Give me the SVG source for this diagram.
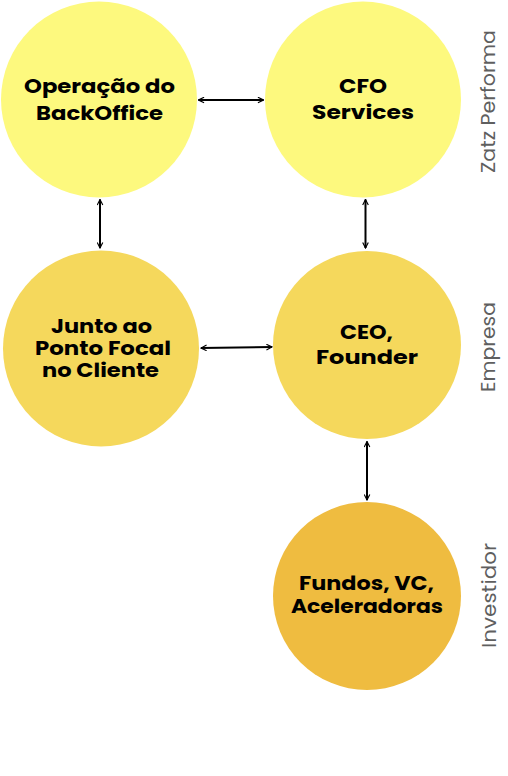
<svg xmlns="http://www.w3.org/2000/svg" width="508" height="776" viewBox="0 0 508 776">
<style>
.top{fill:#FDF97E}
.mid{fill:#F5D85C}
.bot{fill:#EFBC40}
.lbl{font-family:Poppins,"Open Sans","Liberation Sans",sans-serif;font-weight:700;font-size:20px;fill:#000;text-anchor:middle}
.side{font-family:Poppins,"Open Sans","Liberation Sans",sans-serif;font-weight:400;font-size:19px;fill:#5f5f5f;text-anchor:middle}
.con{stroke:#000;stroke-width:2;fill:none;marker-start:url(#ah);marker-end:url(#ah)}
</style>
<defs>
<marker id="ah" viewBox="0 0 10 10" refX="9" refY="5" markerWidth="7" markerHeight="7" markerUnits="userSpaceOnUse" orient="auto-start-reverse">
<path d="M1,1 L9,5 L1,9" fill="none" stroke="#000" stroke-width="1.6"/>
</marker>
</defs>
<rect width="508" height="776" fill="#fff"/>
<g id="node-backoffice">
<circle class="top" cx="99" cy="99.5" r="98"/>
<text class="lbl" x="99.5" y="92.5" textLength="151" lengthAdjust="spacingAndGlyphs">Operação do</text>
<text class="lbl" x="99.5" y="119.5" textLength="127" lengthAdjust="spacingAndGlyphs">BackOffice</text>
</g>
<g id="node-cfo">
<circle class="top" cx="363" cy="99.5" r="98"/>
<text class="lbl" x="363" y="92.5" textLength="48" lengthAdjust="spacingAndGlyphs">CFO</text>
<text class="lbl" x="363" y="119" textLength="102" lengthAdjust="spacingAndGlyphs">Services</text>
</g>
<g id="node-junto">
<circle class="mid" cx="101" cy="348.5" r="98"/>
<text class="lbl" x="101.5" y="333" textLength="101" lengthAdjust="spacingAndGlyphs">Junto ao</text>
<text class="lbl" x="103" y="355" textLength="136" lengthAdjust="spacingAndGlyphs">Ponto Focal</text>
<text class="lbl" x="100.5" y="376.5" textLength="117" lengthAdjust="spacingAndGlyphs">no Cliente</text>
</g>
<g id="node-ceo">
<circle class="mid" cx="367" cy="345" r="94"/>
<text class="lbl" x="366.5" y="339" textLength="53" lengthAdjust="spacingAndGlyphs">CEO,</text>
<text class="lbl" x="367" y="364" textLength="102" lengthAdjust="spacingAndGlyphs">Founder</text>
</g>
<g id="node-fundos">
<circle class="bot" cx="367" cy="596" r="94"/>
<text class="lbl" x="366.5" y="590" textLength="135" lengthAdjust="spacingAndGlyphs">Fundos, VC,</text>
<text class="lbl" x="367" y="613" textLength="152" lengthAdjust="spacingAndGlyphs">Aceleradoras</text>
</g>
<g id="side-labels">
<text class="side" transform="translate(495,101.5) rotate(-90)" textLength="143" lengthAdjust="spacingAndGlyphs">Zatz Performa</text>
<text class="side" transform="translate(495,347) rotate(-90)" textLength="90" lengthAdjust="spacingAndGlyphs">Empresa</text>
<text class="side" transform="translate(496,595.5) rotate(-90)" textLength="105" lengthAdjust="spacingAndGlyphs">Investidor</text>
</g>
<g id="connectors">
<line class="con" x1="198.5" y1="100" x2="263.5" y2="100"/>
<line class="con" x1="100" y1="199.5" x2="100" y2="248"/>
<line class="con" x1="365.5" y1="199.5" x2="365.5" y2="248"/>
<line class="con" x1="201" y1="348" x2="272" y2="347"/>
<line class="con" x1="367" y1="441.5" x2="367" y2="500"/>
</g>
</svg>
